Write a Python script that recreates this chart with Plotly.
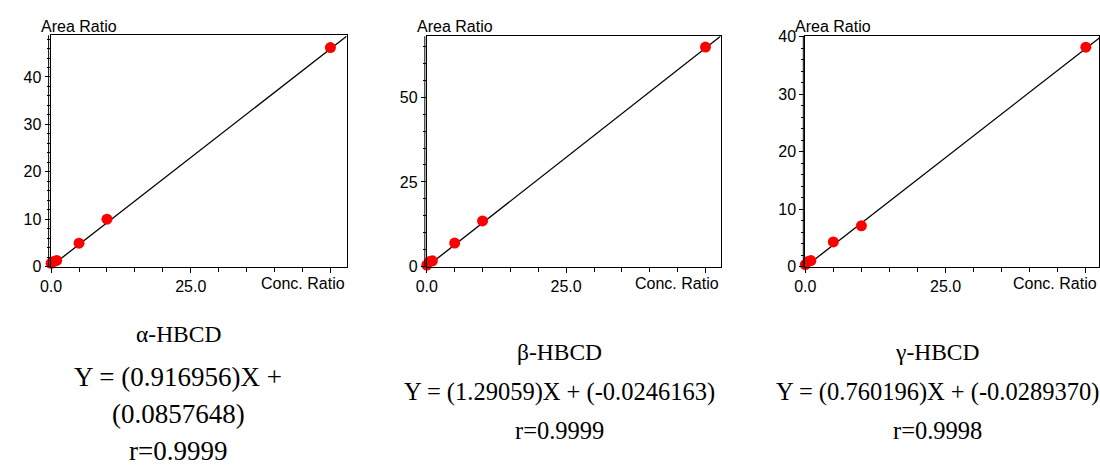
import plotly.graph_objects as go

# ---- data ----
conc = [0, 0.5, 1, 5, 10, 50]
alpha_area = [0.7, 1.1, 1.3, 4.95, 10.0, 46.2]
beta_area = [0.45, 1.5, 1.7, 6.95, 13.5, 64.8]
gamma_area = [0.34, 0.9, 1.06, 4.3, 7.1, 38.2]

slopes = [0.916956, 1.29059, 0.760196]
intercepts = [0.0857648, -0.0246163, -0.0289370]

names = ["α-HBCD", "β-HBCD", "γ-HBCD"]
eq_lines = [
    ["Y = (0.916956)X +", "(0.0857648)"],
    ["Y = (1.29059)X + (-0.0246163)"],
    ["Y = (0.760196)X + (-0.0289370)"],
]
r_texts = ["r=0.9999", "r=0.9999", "r=0.9998"]

x_tickvals = [0, 25, 50]
x_ticktext = ["0.0", "25.0", ""]
y_ticks = [[0, 10, 20, 30, 40], [0, 25, 50], [0, 10, 20, 30, 40]]
y_minor = [2, 5, 2]
x_ranges = [[-0.09, 52.9], [0, 52.7], [0, 52.4]]
y_ranges = [[0, 48.8], [0, 68.0], [0, 40.1]]

W, H = 1100, 471
# pixel boxes for the three plot areas (left, right, top, bottom)
boxes = [(40, 339, 28.3, 268.3), (420, 716.7, 29.3, 268.3), (802.3, 1099.3, 29.3, 268.3)]

series = [alpha_area, beta_area, gamma_area]

fig = go.Figure()
axis_font = dict(family="Liberation Sans, Arial", size=16, color="black")

for i in range(3):
    xa = "x" if i == 0 else f"x{i+1}"
    ya = "y" if i == 0 else f"y{i+1}"
    xr = x_ranges[i]
    fit_x = [0, xr[1]]
    fit_y = [slopes[i] * v + intercepts[i] for v in fit_x]
    fig.add_trace(go.Scatter(x=fit_x, y=fit_y, mode="lines",
                             line=dict(color="black", width=1.3),
                             xaxis=xa, yaxis=ya, showlegend=False, hoverinfo="skip"))
    fig.add_trace(go.Scatter(x=conc, y=series[i], mode="markers",
                             marker=dict(color="#FF0000", size=11),
                             xaxis=xa, yaxis=ya, showlegend=False, cliponaxis=False))
    l, r, t, b = boxes[i]
    xkey = "xaxis" if i == 0 else f"xaxis{i+1}"
    ykey = "yaxis" if i == 0 else f"yaxis{i+1}"
    fig.update_layout({
        xkey: dict(domain=[l / W, r / W], range=xr, anchor=ya,
                   tickvals=x_tickvals, ticktext=x_ticktext,
                   ticks="outside", ticklen=5, tickwidth=1, tickcolor="black",
                   minor=dict(dtick=5, tick0=0, ticks="outside", ticklen=4, tickcolor="black"),
                   showline=True, linecolor="black", linewidth=1, mirror=True,
                   showgrid=False, zeroline=False, tickfont=axis_font, fixedrange=True),
        ykey: dict(domain=[1 - b / H, 1 - t / H], range=y_ranges[i], anchor=xa,
                   tickvals=y_ticks[i], ticks="outside", ticklen=5, tickwidth=1,
                   tickcolor="black",
                   minor=dict(dtick=y_minor[i], tick0=0, ticks="outside", ticklen=3,
                              tickcolor="black"),
                   showline=True, linecolor="black", linewidth=1, mirror=True,
                   showgrid=False, zeroline=False, tickfont=axis_font, fixedrange=True),
    })
    # double line on left axis
    fig.add_shape(type="line", xref="paper", yref="paper",
                  x0=(l - 2) / W, x1=(l - 2) / W, y0=1 - b / H, y1=1 - t / H,
                  line=dict(color="black", width=1))
    # axis captions
    fig.add_annotation(text="Area Ratio", xref="paper", yref="paper",
                       x=(l - 12) / W, y=1 - 19 / H, xanchor="left", yanchor="middle",
                       showarrow=False, font=axis_font)
    fig.add_annotation(text="Conc. Ratio", xref="paper", yref="paper",
                       x=min(r, 1099) / W, y=1 - 286 / H, xanchor="right", yanchor="middle",
                       showarrow=False, font=axis_font)

serif = "Liberation Serif, Times New Roman"
# text blocks below each chart
centers = [169, 554, 936]
for i in range(3):
    cx = centers[i]
    if i == 0:
        ys = [338, 383, 421, 460]
        lines = [names[0]] + eq_lines[0] + [r_texts[0]]
        sizes = [23.5, 27, 27, 27]
    else:
        ys = [357, 398, 438]
        lines = [names[i]] + eq_lines[i] + [r_texts[i]]
        sizes = [23.5, 24.5, 24.5]
    for txt, yy, sz in zip(lines, ys, sizes):
        fig.add_annotation(text=txt, xref="paper", yref="paper",
                           x=cx / W, y=1 - yy / H, xanchor="center", yanchor="middle",
                           showarrow=False, font=dict(family=serif, size=sz, color="black"))

fig.update_layout(width=W, height=H, margin=dict(l=0, r=0, t=0, b=0),
                  paper_bgcolor="white", plot_bgcolor="white", showlegend=False)

fig.write_html(
    "out.html",
    config={"displayModeBar": False},
    post_script="document.body.style.margin='0';document.body.style.overflow='hidden';",
)
